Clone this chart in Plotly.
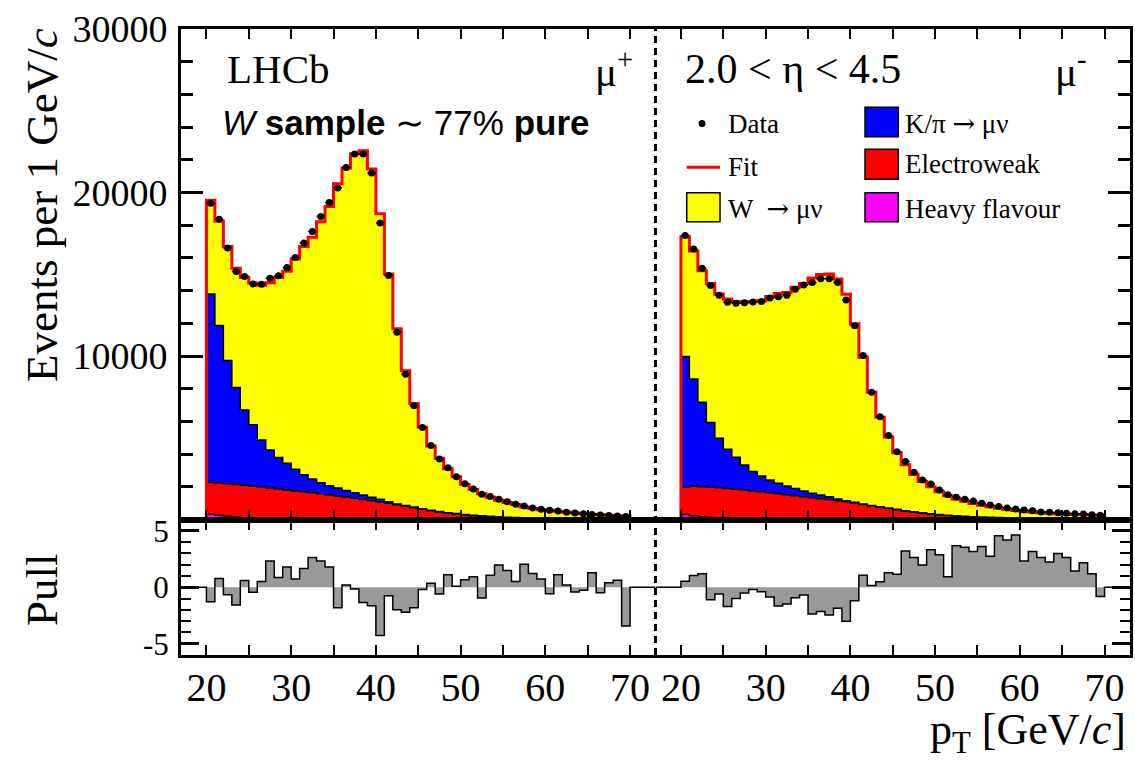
import plotly.graph_objects as go

# ---------------- data (1 GeV bins, 20-70 GeV) ----------------
bin_low = list(range(20, 70))
bin_centre = [b + 0.5 for b in bin_low]

# mu+ panel
data_plus = [19350, 18370, 16600, 15170, 14870, 14410, 14390, 14760, 14910, 15410,
             16030, 16910, 17610, 18530, 19390, 20270, 21530, 22350, 22350, 21190,
             18130, 14930, 11460, 8890, 6950, 5620, 4520, 3700, 3170, 2620,
             2190, 1870, 1540, 1400, 1240, 1090, 930, 830, 710, 620,
             560, 520, 440, 390, 350, 310, 270, 240, 210, 190]
w_plus = [5740, 6390, 6970, 7300, 8100, 8670, 9460, 10230, 11010, 11750,
          12870, 13960, 14780, 15960, 17070, 18600, 19730, 20730, 21050, 20070,
          17460, 13930, 10720, 8240, 6340, 4980, 3930, 3250, 2690, 2255,
          1855, 1568, 1355, 1168, 1005, 898, 794, 670, 590, 527,
          500, 445, 395, 355, 318, 285, 258, 232, 210, 192]
kpi_plus = [11520, 9640, 7530, 5930, 4610, 3750, 2880, 2320, 1920, 1630,
            1320, 1040, 850, 680, 560, 490, 400, 340, 270, 210,
            170, 100, 50, 50, 40, 40, 40, 40, 40, 40,
            35, 32, 30, 27, 25, 22, 20, 17, 15, 13,
            11, 10, 9, 8, 7, 6, 5, 5, 4, 4]
ew_plus = [1940, 1970, 1990, 1990, 1980, 1960, 1930, 1885, 1835, 1782,
           1728, 1672, 1615, 1558, 1500, 1432, 1363, 1294, 1225, 1145,
           1066, 986, 897, 807, 717, 618, 528, 448, 378, 318,
           269, 229, 194, 164, 139, 119, 99, 84, 71, 61,
           53, 46, 40, 35, 31, 27, 24, 21, 19, 17]
hf_plus = [330, 260, 200, 150, 110, 80, 60, 45, 35, 28,
           22, 18, 15, 12, 10, 8, 7, 6, 5, 5,
           4, 4, 3, 3, 3, 2, 2, 2, 2, 2,
           1, 1, 1, 1, 1, 1, 1, 1, 1, 1,
           1, 1, 1, 1, 1, 1, 1, 1, 1, 1]
pull_plus = [-1.28, 0.78, -0.66, -1.58, 0.60, -0.45, 0.50, 2.33, 0.87, 1.79,
             0.72, 1.67, 2.63, 2.33, 1.79, -1.82, 0.21, -0.15, -1.34, -1.64,
             -4.27, -0.75, -2.00, -2.21, -1.82, -0.21, 0.36, -0.60, 1.10, 0.09,
             0.66, 0.93, -0.96, 1.07, 1.97, 1.49, 0.51, 2.03, 1.22, 0.72,
             -0.57, 1.10, 0.21, -0.42, -0.27, 1.28, -0.48, 0.39, 0.63, -3.43]

# mu- panel
data_minus = [17370, 16550, 15370, 14310, 13720, 13290, 13230, 13250, 13310, 13330,
              13540, 13620, 13720, 14090, 14350, 14490, 14730, 14720, 14490, 13430,
              11850, 10030, 7790, 6290, 5130, 4150, 3540, 2890, 2420, 2170,
              1810, 1520, 1360, 1240, 1130, 990, 890, 790, 710, 640,
              580, 540, 460, 440, 410, 380, 350, 330, 290, 260]
w_minus = [7330, 7820, 8050, 8510, 8820, 9190, 9530, 9980, 10400, 10720,
           11220, 11610, 11840, 12310, 12680, 13170, 13490, 13630, 13460, 12630,
           10930, 8970, 6920, 5470, 4340, 3460, 2810, 2280, 1910, 1655,
           1385, 1180, 1030, 910, 810, 720, 650, 570, 510, 460,
           420, 385, 350, 325, 300, 280, 265, 250, 238, 228]
kpi_minus = [7990, 6570, 5160, 3950, 3030, 2400, 1960, 1530, 1180, 970,
             790, 640, 540, 440, 360, 270, 230, 180, 100, 70,
             50, 30, 20, 20, 20, 20, 20, 20, 25, 25,
             25, 25, 25, 25, 25, 24, 22, 21, 20, 19,
             18, 17, 16, 14, 13, 12, 11, 10, 9, 8]
ew_minus = [1680, 1800, 1840, 1860, 1855, 1840, 1805, 1765, 1722, 1668,
            1612, 1555, 1498, 1440, 1382, 1323, 1264, 1205, 1145, 1076,
            996, 917, 837, 757, 678, 598, 518, 448, 383, 328,
            279, 239, 204, 174, 149, 127, 109, 93, 79, 68,
            59, 51, 44, 39, 34, 30, 26, 23, 20, 18]
hf_minus = [300, 230, 170, 120, 85, 60, 45, 35, 28, 22,
            18, 15, 12, 10, 8, 7, 6, 5, 5, 4,
            4, 3, 3, 3, 2, 2, 2, 2, 2, 2,
            1, 1, 1, 1, 1, 1, 1, 1, 1, 1,
            1, 1, 1, 1, 1, 1, 1, 1, 1, 1]
pull_minus = [0.54, 1.04, 1.19, -1.10, -0.60, -1.70, -0.99, -0.51, -0.21, -0.39,
              -0.87, -1.67, -1.49, -0.93, -0.69, -2.36, -2.15, -2.45, -1.85, -3.01,
              -1.19, 1.07, 0.15, 0.48, 1.28, 1.16, 3.22, 2.63, 1.97, 3.31,
              2.87, 0.93, 3.67, 3.55, 3.16, 3.61, 2.75, 4.57, 4.18, 4.63,
              2.33, 3.16, 2.63, 2.24, 2.99, 2.63, 1.43, 2.18, 1.19, -0.81]

x_tick_vals = [20, 30, 40, 50, 60, 70]
x_tick_text = ["20", "30", "40", "50", "60", "70"]
y_tick_vals = [10000, 20000, 30000]
y_tick_text = ["10000", "20000", "30000"]
pull_tick_vals = [-5, 0, 5]
pull_tick_text = ["-5", "0", "5"]

# ---------------- geometry helpers ----------------
W_PX, H_PX = 1135, 762
ML, MR, MT, MB = 181, 5, 29, 107
PW, PH = W_PX - ML - MR, H_PX - MT - MB


def px(x):
    return (x - ML) / PW


def py(y):
    return (H_PX - MB - y) / PH


SERIF = "Liberation Serif"
SANS = "Liberation Sans"
YELLOW, BLUE, RED, MAGENTA = "#FFFF00", "#0000FF", "#FF0000", "#FF00FF"
PULL_GREY = "#999999"

fig = go.Figure()


def cum(*arrs):
    out = [0.0] * len(arrs[0])
    for a in arrs:
        out = [o + v for o, v in zip(out, a)]
    return out


def add_panel(data, w, kpi, ew, hf, pull, xa, ya, xpa, ypa):
    c1 = cum(hf)
    c2 = cum(hf, ew)
    c3 = cum(hf, ew, kpi)
    c4 = cum(hf, ew, kpi, w)
    xs = [20] + bin_low + [70, 70]

    def lvl(v):
        return [0] + list(v) + [v[-1], 0]

    common = dict(x=xs, mode="lines", xaxis=xa, yaxis=ya, hoverinfo="skip",
                  showlegend=False)
    fig.add_trace(go.Scatter(y=lvl(c1), fill="tozeroy", fillcolor=MAGENTA,
                             line=dict(color="black", width=1.5, shape="hv"), **common))
    fig.add_trace(go.Scatter(y=lvl(c2), fill="tonexty", fillcolor=RED,
                             line=dict(color="black", width=1.5, shape="hv"), **common))
    fig.add_trace(go.Scatter(y=lvl(c3), fill="tonexty", fillcolor=BLUE,
                             line=dict(color="black", width=1.5, shape="hv"), **common))
    fig.add_trace(go.Scatter(y=lvl(c4), fill="tonexty", fillcolor=YELLOW,
                             line=dict(color=YELLOW, width=0.5, shape="hv"), **common))
    # fit line
    fig.add_trace(go.Scatter(x=[17] + bin_low + [70, 70, 73],
                             y=[0] + list(c4) + [c4[-1], 0, 0],
                             mode="lines", line=dict(color=RED, width=3, shape="hv"),
                             xaxis=xa, yaxis=ya, hoverinfo="skip", showlegend=False))
    # data points
    fig.add_trace(go.Scatter(x=bin_centre, y=data, mode="markers",
                             marker=dict(color="black", size=7),
                             error_x=dict(type="constant", value=0.5, thickness=1.5,
                                          width=0, color="black"),
                             xaxis=xa, yaxis=ya, hoverinfo="skip", showlegend=False))
    # pull
    fig.add_trace(go.Scatter(x=[17] + bin_low + [70, 73],
                             y=[0] + list(pull) + [0, 0],
                             mode="lines", fill="tozeroy", fillcolor=PULL_GREY,
                             line=dict(color="black", width=1.5, shape="hv"),
                             xaxis=xpa, yaxis=ypa, hoverinfo="skip", showlegend=False))


add_panel(data_plus, w_plus, kpi_plus, ew_plus, hf_plus, pull_plus, "x", "y", "x3", "y3")
add_panel(data_minus, w_minus, kpi_minus, ew_minus, hf_minus, pull_minus, "x2", "y2", "x4", "y4")

split = py(519.5)

xcommon = dict(range=[17, 73], showline=True, linewidth=3, linecolor="black",
               mirror="ticks", ticks="inside", tickvals=x_tick_vals, ticktext=x_tick_text,
               ticklen=10, tickwidth=2, tickcolor="black",
               minor=dict(ticks="inside", dtick=5, tick0=0, ticklen=10, tickwidth=2,
                          tickcolor="black", showgrid=False),
               showgrid=False, zeroline=False, fixedrange=True, automargin=False)
xmain = dict(xcommon, showticklabels=False)
xpull = dict(xcommon, showticklabels=True,
             tickfont=dict(family=SERIF, size=40, color="black"), ticklabelstandoff=-5)

ymain = dict(range=[0, 30000], domain=[split, 1], showline=True, linewidth=3,
             linecolor="black", mirror=False, ticks="inside", tickvals=y_tick_vals,
             ticktext=y_tick_text, ticklen=22, tickwidth=2.5, tickcolor="black",
             minor=dict(ticks="inside", dtick=2000, tick0=0, ticklen=12, tickwidth=2.5,
                        tickcolor="black", showgrid=False),
             showgrid=False, zeroline=False, automargin=False,
             tickfont=dict(family=SERIF, size=38, color="black"), ticklabelstandoff=3)
ypull = dict(range=[-6, 6], domain=[0, split], showline=True, linewidth=3,
             linecolor="black", mirror=False, ticks="inside", tickvals=pull_tick_vals,
             ticktext=pull_tick_text, ticklen=18, tickwidth=2.5, tickcolor="black",
             minor=dict(ticks="inside", dtick=1, tick0=0, ticklen=10, tickwidth=2,
                        tickcolor="black", showgrid=False),
             showgrid=False, zeroline=False, automargin=False,
             tickfont=dict(family=SERIF, size=31, color="black"), ticklabelstandoff=3)

fig.update_layout(
    width=W_PX, height=H_PX,
    margin=dict(l=ML, r=MR, t=MT, b=MB, pad=0, autoexpand=False),
    paper_bgcolor="white", plot_bgcolor="white",
    showlegend=False,
    xaxis=dict(xmain, domain=[0, 0.5], anchor="y"),
    xaxis2=dict(xmain, domain=[0.5, 1], anchor="y2"),
    xaxis3=dict(xpull, domain=[0, 0.5], anchor="y3"),
    xaxis4=dict(xpull, domain=[0.5, 1], anchor="y4"),
    yaxis=dict(ymain, anchor="x"),
    yaxis2=dict(ymain, anchor="x2", side="right", showticklabels=False),
    yaxis3=dict(ypull, anchor="x3"),
    yaxis4=dict(ypull, anchor="x4", side="right", showticklabels=False),
)

shapes = []
# dashed separator
shapes.append(dict(type="line", xref="paper", yref="paper", x0=0.5, x1=0.5, y0=0, y1=1,
                   line=dict(color="black", width=3, dash="7px,5px")))


def box(x0, x1, y0, y1, color):
    shapes.append(dict(type="rect", xref="paper", yref="paper",
                       x0=px(x0), x1=px(x1), y0=py(y1), y1=py(y0),
                       fillcolor=color, line=dict(color="black", width=1.5)))


box(686.7, 720, 192.7, 221.7, YELLOW)
box(865, 898.3, 107.3, 136.7, BLUE)
box(865, 898.3, 149.3, 179.3, RED)
box(865, 898.3, 192.7, 221.7, MAGENTA)
shapes.append(dict(type="line", xref="paper", yref="paper", x0=px(686.7), x1=px(720),
                   y0=py(167.3), y1=py(167.3), line=dict(color=RED, width=3)))
shapes.append(dict(type="circle", xref="paper", yref="paper", x0=px(698.5), x1=px(705.5),
                   y0=py(127), y1=py(120), fillcolor="black", line=dict(color="black", width=0)))
fig.update_layout(shapes=shapes)

anns = []


def ann(text, x, y, size, xanchor="left", family=SERIF, angle=0):
    anns.append(dict(text=text, x=px(x), y=py(y), xref="paper", yref="paper",
                     xanchor=xanchor, yanchor="middle", showarrow=False, borderpad=0,
                     textangle=angle, font=dict(family=family, size=size, color="black")))


ARROW = "<span style=\"font-family:'DejaVu Serif'\">\u2192</span>"
# legend texts
ann("Data", 727, 123.5, 27)
ann("Fit", 727, 167, 27)
ann("W  " + ARROW + " \u03bc\u03bd", 727, 209, 27)
ann("K/\u03c0 " + ARROW + " \u03bc\u03bd", 904, 123.5, 27)
ann("Electroweak", 904, 164.5, 27)
ann("Heavy flavour", 904, 209, 27)
# panel labels
ann("LHCb", 226, 69, 41)
ann("\u03bc<sup>+</sup>", 634, 69, 41, xanchor="right")
ann("2.0 &lt; \u03b7 &lt; 4.5", 684, 69, 42)
ann("\u03bc<sup>-</sup>", 1088, 69, 41, xanchor="right")
ann("<i>W</i> <b>sample</b> \u223c 77% <b>pure</b>", 221, 123, 35, family=SANS)
# axis titles
ann("Events per 1 GeV/<i>c</i>", 42, 205, 45, xanchor="center", angle=-90)
ann("Pull", 42, 590, 45, xanchor="center", angle=-90)
ann("p<sub>T</sub> [GeV/<i>c</i>]", 1127, 732, 44, xanchor="right")
fig.update_layout(annotations=anns)

fig.write_html("out.html",
               config={"displayModeBar": False},
               post_script="document.body.style.margin='0px';"
                           "document.body.style.overflow='hidden';")
